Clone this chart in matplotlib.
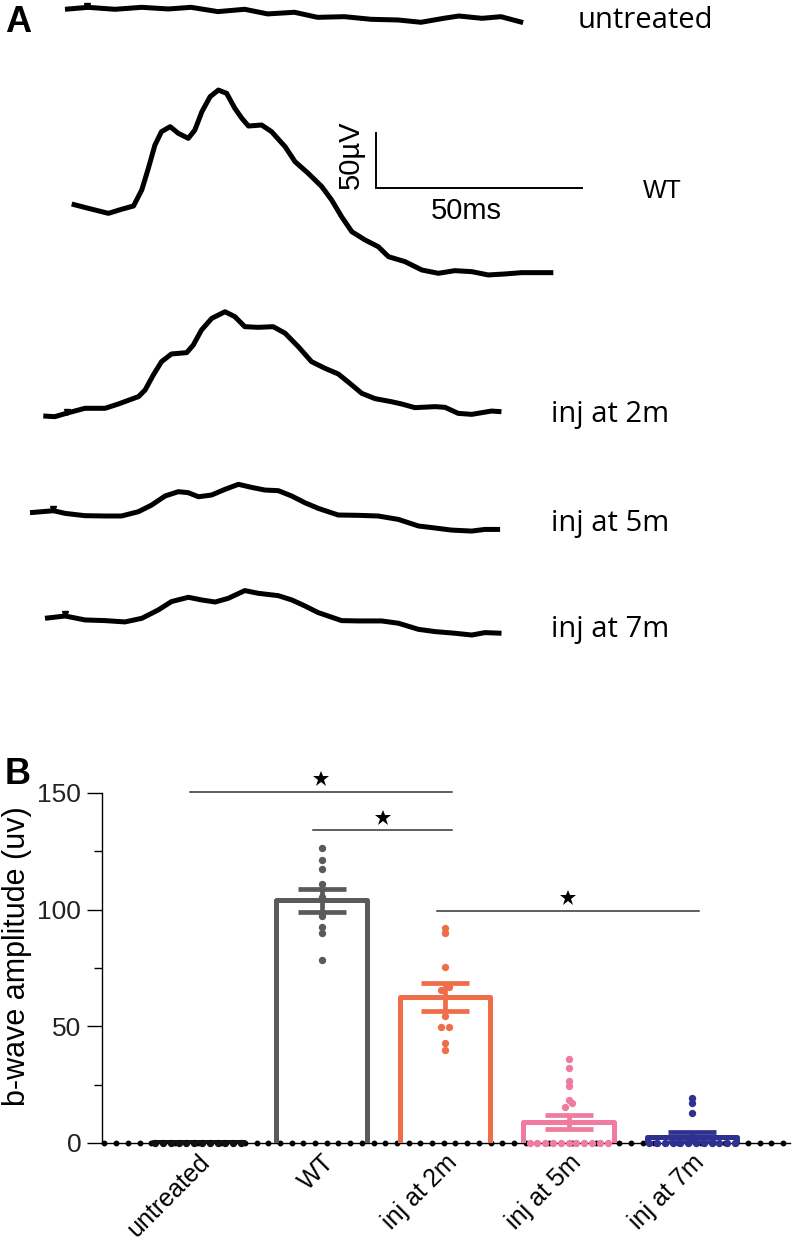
import numpy as np
import matplotlib
matplotlib.use("Agg")
import matplotlib.pyplot as plt

# ---------------- Panel A data: ERG traces (ms, µV relative to trace start) -------------
untreated_t = [0, 5.6, 12.1, 18.6, 25.1, 30.6, 37.1, 43.6, 49.2, 55.7, 61.3, 67.8, 74.3,
               80.8, 86.4, 91.9, 95.6, 101.2, 105.8, 111.2]
untreated_v = [0, 1.8, 0, 1.8, 0.3, 1.8, -2.1, 0, -4.2, -2.7, -7.3, -6.7, -9.1,
               -9.7, -11.8, -8.2, -6.1, -8.2, -6.7, -12.1]

wt_t = [0, 4.0, 8.9, 12.1, 15.0, 17.0, 18.6, 20.2, 21.8, 23.9, 25.9, 28.3, 29.9, 31.6,
        33.6, 35.6, 37.6, 39.6, 41.3, 42.9, 46.1, 48.5, 51.8, 54.2, 57.4, 60.7, 63.1,
        65.5, 68.0, 71.2, 74.4, 76.9, 80.9, 85.0, 89.0, 93.0, 97.1, 101.1, 105.2,
        109.2, 116.9]
wt_v = [0, -3.9, -8.5, -4.8, -1.8, 12.7, 32.4, 53.6, 65.8, 70.3, 64.2, 59.7, 67.3, 83.9,
        97.6, 103.6, 100.6, 87.0, 77.9, 70.9, 71.8, 65.8, 52.1, 38.5, 27.9, 15.8, 3.6,
        -11.5, -25.2, -32.7, -38.8, -47.9, -52.4, -60.0, -63.0, -60.6, -61.5, -64.5,
        -63.6, -62.4, -62.4]

inj2_t = [0, 2.8, 6.1, 10.1, 15.0, 18.2, 23.1, 24.7, 26.7, 28.7, 31.1, 34.8, 36.4, 38.4,
          40.9, 44.1, 46.5, 48.9, 52.2, 55.8, 58.7, 61.9, 65.1, 68.4, 71.6, 74.4, 77.3,
          80.5, 84.5, 87.0, 90.2, 95.1, 97.5, 100.7, 104.0, 108.8, 111.2]
inj2_v = [0, -0.6, 3.0, 7.0, 7.0, 10.9, 17.6, 23.6, 37.3, 49.4, 56.4, 57.6, 64.5, 78.2,
          88.8, 94.8, 90.3, 81.2, 80.6, 81.2, 75.2, 63.0, 49.4, 43.3, 38.2, 29.7, 20.6,
          15.8, 13.0, 10.9, 7.6, 8.5, 7.9, 2.4, 1.5, 4.5, 3.9]

inj5_t = [0, 2.8, 5.7, 8.5, 13.3, 18.2, 22.2, 26.3, 29.5, 32.8, 36.0, 38.4, 40.9, 44.1,
          47.3, 50.6, 53.8, 57.0, 60.3, 63.5, 66.7, 70.0, 74.8, 79.7, 84.5, 89.4, 94.3,
          98.3, 102.3, 107.2, 110.4, 114.1]
inj5_v = [0, 0.9, 1.8, -0.6, -2.7, -3.0, -3.0, 0.9, 6.9, 15.2, 19.1, 18.2, 14.5, 16.1,
          21.2, 25.8, 23.0, 20.6, 20.0, 15.2, 9.1, 3.9, -2.1, -2.4, -3.0, -6.1, -12.1,
          -13.9, -15.8, -16.7, -15.2, -15.2]

inj7_t = [0, 4.9, 9.7, 14.6, 19.4, 23.5, 27.5, 30.7, 34.8, 38.0, 41.3, 44.5, 48.5, 51.8,
          56.6, 59.9, 63.1, 66.3, 72.0, 76.1, 81.7, 85.8, 90.6, 94.7, 99.5, 103.6, 106.8,
          110.8]
inj7_v = [0, 2.1, -1.5, -2.1, -3.3, 0, 7.6, 15.2, 19.1, 16.7, 14.8, 18.2, 25.2, 22.7,
          20.6, 16.7, 11.2, 5.2, -2.1, -2.4, -2.4, -4.5, -10.0, -12.1, -13.6, -15.2,
          -13.0, -13.6]

trace_names = ["untreated", "WT", "inj at 2m", "inj at 5m", "inj at 7m"]
stim_times = [5.4, None, 5.7, 5.7, 4.9]   # small stimulus marks (ms)

# ---------------- Panel B data ------------------------------------------------------------
groups = ["untreated", "WT", "inj at 2m", "inj at 5m", "inj at 7m"]
means = [0.5, 104.0, 62.5, 9.0, 2.6]
sems = [0.0, 5.0, 6.0, 3.0, 2.3]
pts_untreated = [0] * 12
pts_wt = [126.5, 121.5, 117.5, 111, 105.5, 97.5, 92.5, 90, 78.5]
pts_2m = [92.3, 90.2, 75.6, 66.7, 65.5, 54.3, 49.6, 49.6, 42.7, 39.7]
pts_5m = [36, 32, 26.5, 24.5, 18.5, 17, 15.5] + [0] * 11
pts_7m = [19.2, 17, 12.8] + [0] * 12
colors = ["#111111", "#5a5a5a", "#ee6e4a", "#ef7b9f", "#2e3192"]
sig_pairs = [(0, 2), (1, 2), (2, 4)]
sig_levels = [150.5, 134.0, 99.5]

# =========================================================================================
W, H = 792, 1242
fig = plt.figure(figsize=(W / 100, H / 100), dpi=100)

# ---------------- Panel A ----------------------------------------------------------------
PX_PER_MS = 4.12
PX_PER_UV = 1.1
A_H = 700
axA = fig.add_axes([0, 1 - A_H / H, 1, A_H / H])
axA.set_xlim(0, W / PX_PER_MS)
axA.set_ylim(-A_H / PX_PER_UV, 0)
axA.axis("off")

traces = [(untreated_t, untreated_v), (wt_t, wt_v), (inj2_t, inj2_v),
          (inj5_t, inj5_v), (inj7_t, inj7_v)]
starts_px = [(65, 9.3), (71.7, 204), (43.3, 416), (30, 512.7), (45, 618.3)]
for (t, v), (sx, sy), st in zip(traces, starts_px, stim_times):
    t = np.asarray(t) + sx / PX_PER_MS
    v = np.asarray(v) - sy / PX_PER_UV
    axA.plot(t, v, color="black", lw=3.6, solid_capstyle="butt", solid_joinstyle="round")
    if st is not None:
        tm = st + sx / PX_PER_MS
        axA.plot([tm], [np.interp(tm, t, v) + 1.5], marker="v", color="black", ms=5)

# scale bar 50 ms / 50 µV
sbx, sby = 376 / PX_PER_MS, -188 / PX_PER_UV
axA.plot([sbx, sbx, sbx + 50], [sby + 50, sby, sby], color="black", lw=1.4,
         solid_joinstyle="miter")
axA.text(sbx - 25 / PX_PER_MS, sby + 33 / PX_PER_UV, "50µV", rotation=90,
         ha="center", va="center", fontsize=21, family="Liberation Sans")
axA.text(sbx + 90 / PX_PER_MS, sby - 23 / PX_PER_UV, "50ms",
         ha="center", va="center", fontsize=21, family="Liberation Sans")

label_pos = [(578, 28), None, (551, 422), (551, 531), (551, 637)]
for name, pos in zip(trace_names, label_pos):
    if pos is None:
        continue
    axA.text(pos[0] / PX_PER_MS, -pos[1] / PX_PER_UV, name, ha="left", va="baseline",
             fontsize=21, family="Open Sans")
axA.text(643 / PX_PER_MS, -198 / PX_PER_UV, "WT", ha="left", va="baseline",
         fontsize=18, family="Liberation Sans")

fig.text(5 / W, 1 - 5 / H, "A", ha="left", va="top", fontsize=26, fontweight="bold",
         family="Liberation Sans")
fig.text(5 / W, 1 - 757 / H, "B", ha="left", va="top", fontsize=26, fontweight="bold",
         family="Liberation Sans")

# ---------------- Panel B ----------------------------------------------------------------
y0_px, ytop = 1143, 160
PX_PER_UNIT_Y = (1143 - 793) / 150
x_left_px, x_right_px = 102, 790
c0_px, step_px = 198, 123.5
axB = fig.add_axes([x_left_px / W, (H - y0_px) / H, (x_right_px - x_left_px) / W,
                    ytop * PX_PER_UNIT_Y / H])
axB.set_xlim(-(c0_px - x_left_px) / step_px, (x_right_px - c0_px) / step_px)
axB.set_ylim(0, ytop)

for s in ["top", "right", "bottom"]:
    axB.spines[s].set_visible(False)
axB.spines["left"].set_bounds(0, 150)
axB.spines["left"].set_linewidth(1.0)
axB.set_yticks([0, 50, 100, 150])
axB.set_yticks([25, 75, 125], minor=True)
axB.tick_params(axis="y", which="major", length=11, width=1.0, labelsize=19, pad=4,
                labelcolor="#222222")
axB.tick_params(axis="y", which="minor", length=5.5, width=1.0)
for lab in axB.get_yticklabels():
    lab.set_family("Liberation Sans")
axB.set_ylabel("b-wave amplitude (uv)", fontsize=22, family="Liberation Sans", labelpad=4)

x = np.arange(len(groups))
axB.set_xticks(x)
axB.set_xticklabels(groups, rotation=45, ha="right", rotation_mode="anchor",
                    fontsize=18, family="Liberation Sans")
axB.tick_params(axis="x", length=0, pad=5)

# dotted zero line
xl = axB.get_xlim()
axB.plot(xl, [0, 0], color="black", lw=1.0, zorder=2, clip_on=False)
dots_x = np.arange(xl[0] + 0.02, xl[1], 11.7 / step_px)
axB.plot(dots_x, np.zeros_like(dots_x), "o", color="black", ms=3.2, zorder=2,
         clip_on=False)

bw = 91 / step_px
all_pts = [pts_untreated, pts_wt, pts_2m, pts_5m, pts_7m]
d_px, thr_px = 7.8, 4.5
for i, (m, se, pts, c) in enumerate(zip(means, sems, all_pts, colors)):
    # open bar outline (no bottom edge)
    axB.plot([i - bw / 2, i - bw / 2, i + bw / 2, i + bw / 2], [0, m, m, 0], color=c,
             lw=3.6, solid_joinstyle="round", solid_capstyle="butt", zorder=3)
    # swarm points
    vals = np.sort(np.asarray(pts, dtype=float))
    xs, ys = [], []
    j = 0
    while j < len(vals):
        k = j
        while k + 1 < len(vals) and (vals[k + 1] - vals[j]) * PX_PER_UNIT_Y < thr_px:
            k += 1
        n = k - j + 1
        for q in range(n):
            xs.append(i + (q - (n - 1) / 2) * d_px / step_px)
            ys.append(vals[j + q])
        j = k + 1
    axB.scatter(xs, ys, s=28, color=c, zorder=4, clip_on=False, linewidths=0)
    if se > 0:
        axB.errorbar([i], [m], yerr=[se], fmt="none", ecolor=c, elinewidth=3.4,
                     capsize=17, capthick=3.4, zorder=5)

# significance brackets
for (a, b), lvl in zip(sig_pairs, sig_levels):
    xa, xb = a - 0.065, b + 0.06
    axB.plot([xa, xb], [lvl, lvl], color="#333333", lw=1.1, clip_on=False, zorder=3)
    axB.plot([(xa + xb) / 2], [lvl + 5.5], marker="*", color="black", ms=12,
             clip_on=False, zorder=3, markeredgewidth=0)

fig.savefig("out.png", dpi=100)
